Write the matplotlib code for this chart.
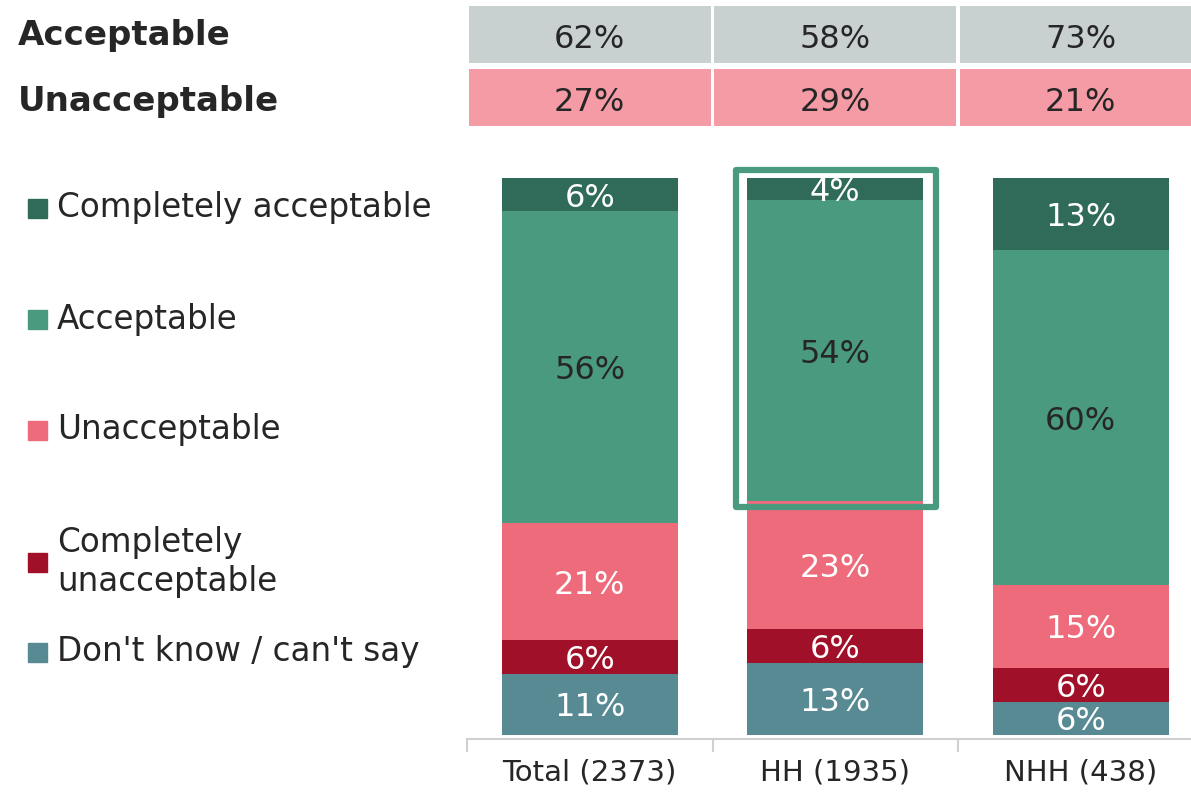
import matplotlib
matplotlib.use("Agg")
import matplotlib.pyplot as plt
from matplotlib.patches import Rectangle
import numpy as np

# ---- data ----
groups = ["Total (2373)", "HH (1935)", "NHH (438)"]
dont_know = [11, 13, 6]
completely_unacceptable = [6, 6, 6]
unacceptable = [21, 23, 15]
acceptable = [56, 54, 60]
completely_acceptable = [6, 4, 13]

net_acceptable = [62, 58, 73]
net_unacceptable = [27, 29, 21]

# bottom to top
series = [
    ("Don't know / can't say", dont_know, "#588a94", "white"),
    ("Completely\nunacceptable", completely_unacceptable, "#a01028", "white"),
    ("Unacceptable", unacceptable, "#ee6b7b", "white"),
    ("Acceptable", acceptable, "#4a9a80", "#262626"),
    ("Completely acceptable", completely_acceptable, "#2f6b58", "white"),
]

plt.rcParams['font.family'] = ['DejaVu Sans']
dark = "#262626"

W, H = 1191, 796
fig = plt.figure(figsize=(W / 100, H / 100), dpi=100)

# main axes: x range -0.5..2.5 spans 467..1203.5 px, y 0..100 spans 735..178 px
left = 467 / W
width = 736.5 / W
ax = fig.add_axes([left, (H - 735) / H, width, 557 / H])
x = np.arange(len(groups))
bw = 0.717

bottom = np.zeros(len(groups))
for name, vals, col, tcol in series:
    vals = np.array(vals)
    ax.bar(x, vals, bw, bottom=bottom, color=col, linewidth=0)
    for xi, b, v in zip(x, bottom, vals):
        ax.text(xi, b + v / 2, f"{v}%", ha="center", va="center_baseline",
                fontsize=23, color=tcol)
    bottom += vals

# highlight box around HH acceptable
hh = 1
hb = dont_know[hh] + completely_unacceptable[hh] + unacceptable[hh]
ax.add_patch(Rectangle((hh - bw / 2 - 0.045, hb - 1.0), bw + 0.095, 100 - hb + 2.4,
                       fill=False, edgecolor="#4a9a80", linewidth=4.5,
                       joinstyle="round", clip_on=False))

ax.set_xlim(-0.5, 2.5)
ax.set_ylim(0, 100)
ax.set_yticks([])
for s in ["top", "right", "left"]:
    ax.spines[s].set_visible(False)
ax.spines["bottom"].set_color("#d0d0d0")
ax.spines["bottom"].set_linewidth(1.5)
ax.spines["bottom"].set_position(("outward", 3))
ax.set_xticks(x)
ax.set_xticklabels(groups, fontsize=21, color=dark)
ax.tick_params(axis="x", which="major", length=0, pad=14)
ax.set_xticks(np.arange(-0.5, 2.5, 1), minor=True)
ax.tick_params(axis="x", which="minor", length=9, width=1.5, color="#d0d0d0")

# summary table on top
axt = fig.add_axes([left, (H - 129) / H, width, 126 / H])
axt.set_xlim(-0.5, 2.5)
axt.set_ylim(0, 2)
axt.axis("off")
rows = [(net_acceptable, "#c8d0d0", 1), (net_unacceptable, "#f49ba6", 0)]
for vals, col, r in rows:
    axt.bar(x, 0.92, 0.984, bottom=r + 0.04, color=col, linewidth=0)
    for xi, v in zip(x, vals):
        axt.text(xi, r + 0.47, f"{v}%", ha="center", va="center_baseline",
                 fontsize=23, color=dark)

fig.text(18 / W, 1 - 36 / H, "Acceptable", fontsize=24.5, fontweight="bold",
         color=dark, va="center", ha="left")
fig.text(18 / W, 1 - 101 / H, "Unacceptable", fontsize=24.5, fontweight="bold",
         color=dark, va="center", ha="left")

# legend, top entry first
leg_y = [208, 319, 430, 562, 652]
for (name, vals, col, tcol), yy in zip(series[::-1], leg_y):
    fig.patches.append(Rectangle((28 / W, 1 - (yy + 10) / H), 19 / W, 19 / H,
                                 transform=fig.transFigure, color=col,
                                 figure=fig))
    fig.text(57 / W, 1 - yy / H, name, fontsize=23.5, color=dark,
             va="center", ha="left", linespacing=1.25)

fig.savefig("out.png", dpi=100)
